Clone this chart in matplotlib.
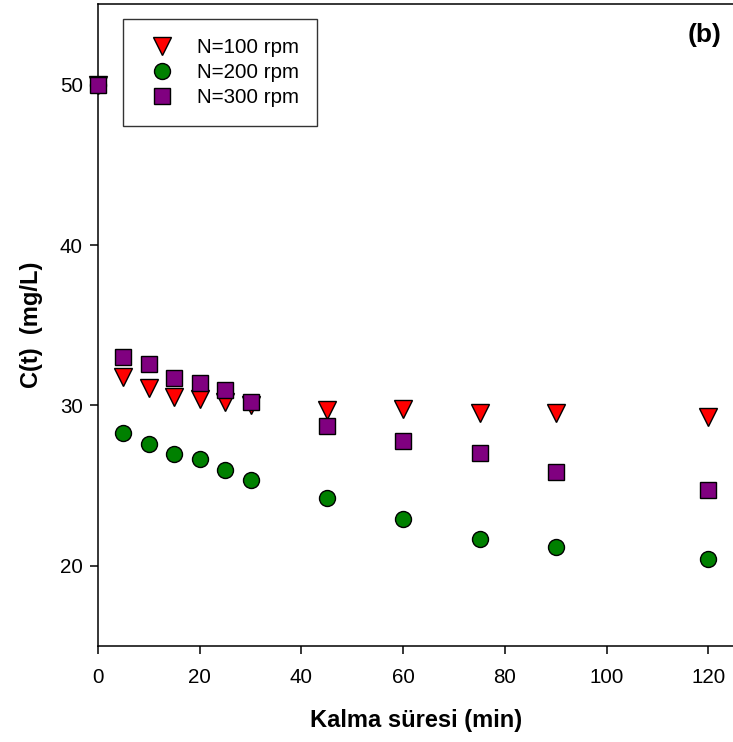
import numpy as np
import matplotlib
matplotlib.use("Agg")
import matplotlib.pyplot as plt

plt.rcParams["font.family"] = ["Liberation Sans", "DejaVu Sans"]

# residence time (min) and concentration C(t) (mg/L) for each stirring speed
t = [0, 5, 10, 15, 20, 25, 30, 45, 60, 75, 90, 120]
c_100 = [50.0, 31.8, 31.06, 30.5, 30.4, 30.2, 30.0, 29.7, 29.77, 29.52, 29.52, 29.25]
c_200 = [50.0, 28.25, 27.57, 26.94, 26.67, 25.96, 25.34, 24.2, 22.9, 21.7, 21.2, 20.4]
c_300 = [50.0, 33.0, 32.6, 31.7, 31.4, 30.95, 30.2, 28.7, 27.8, 27.05, 25.87, 24.7]

labels = ["N=100 rpm", "N=200 rpm", "N=300 rpm"]

fig = plt.figure(figsize=(7.33, 7.42), dpi=100)
ax = fig.add_axes([0.1337, 0.1294, 0.8675, 0.8646])

ax.plot(t, c_100, "v", ms=13, mfc="red", mec="black", mew=1, label=labels[0],
        clip_on=False, zorder=3)
ax.plot(t, c_200, "o", ms=11.5, mfc="green", mec="black", mew=1, label=labels[1],
        clip_on=False, zorder=3)
ax.plot(t, c_300, "s", ms=11, mfc="purple", mec="black", mew=1, label=labels[2],
        clip_on=False, zorder=4)

ax.set_xlim(0, 125)
ax.set_ylim(15, 55)
ax.set_xticks([0, 20, 40, 60, 80, 100, 120])
ax.set_yticks([20, 30, 40, 50])
ax.tick_params(direction="out", length=6, width=1.1, labelsize=14.8)
ax.tick_params(axis="x", pad=10)
ax.tick_params(axis="y", pad=5)
ax.spines["right"].set_visible(False)
for s in ["left", "bottom", "top"]:
    ax.spines[s].set_linewidth(1.1)

ax.set_xlabel("Kalma süresi (min)", fontsize=17, fontweight="bold", labelpad=16)
ax.set_ylabel("C(t)  (mg/L)", fontsize=17, fontweight="bold", labelpad=12)

ax.text(0.954, 0.952, "(b)", transform=ax.transAxes, fontsize=19,
        fontweight="bold", ha="center", va="center")

leg = ax.legend(loc="upper left", bbox_to_anchor=(0.039, 0.977), borderaxespad=0,
                fontsize=14.8, frameon=True, fancybox=False, edgecolor="black",
                handletextpad=0.7, labelspacing=0.3, borderpad=0.9,
                handlelength=2.0)
leg.get_frame().set_linewidth(1.0)

fig.savefig("out.png", dpi=100)
